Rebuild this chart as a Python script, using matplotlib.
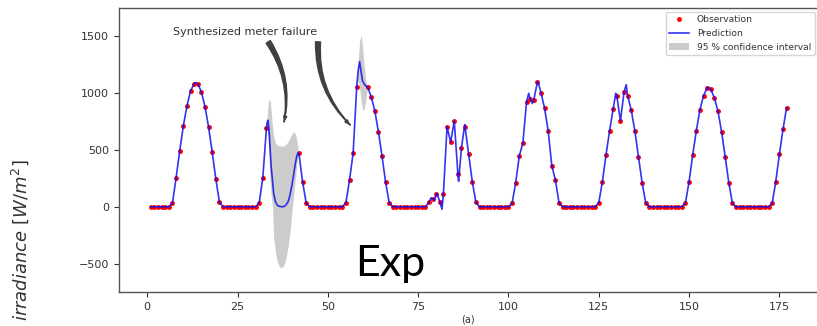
import numpy as np
import matplotlib
matplotlib.use("Agg")
import matplotlib.pyplot as plt

nan = np.nan

# Hourly irradiance observations (hour index 1..177), NaN = meter failure
hours = np.arange(1, 178)
obs_irr = [
    0, 0, 0, 0, 0, 0, 35, 256, 494, 712, 888, 1020, 1085, 1085, 1011, 882, 700, 480, 244, 41, 0, 0, 0, 0,
    0, 0, 0, 0, 0, 0, 35, 256, 690, nan, nan, nan, nan, nan, nan, nan, nan, 471, 222, 35, 0, 0, 0, 0,
    0, 0, 0, 0, 0, 0, 35, 235, 471, 1058, nan, nan, 1055, 970, 847, 661, 447, 215, 35, 0, 0, 0, 0, 0,
    0, 0, 0, 0, 0, 40, 70, 110, 45, 115, 705, 568, 756, 290, 520, 700, 462, 220, 39, 0, 0, 0, 0, 0,
    0, 0, 0, 0, 30, 212, 447, 565, 920, 950, 940, 1095, 1005, 868, 668, 362, 235, 35, 0, 0, 0, 0, 0, 0,
    0, 0, 0, 0, 35, 220, 456, 670, 862, 975, 755, 1010, 978, 850, 668, 441, 212, 35, 0, 0, 0, 0, 0, 0,
    0, 0, 0, 0, 35, 220, 456, 668, 853, 978, 1048, 1035, 960, 843, 661, 441, 212, 30, 0, 0, 0, 0, 0, 0,
    0, 0, 0, 0, 30, 222, 462, 683, 873,
]

# Prediction between samples where the curve departs from straight segments
pred_extra_x = [13.5, 78.6, 79.5, 80.2, 81.6, 86.2, 87.9, 105.6, 106.6, 108.2, 129.7, 132.6, 155.4]
pred_extra_y = [1093, 80, 58, 118, -22, 225, 725, 1000, 910, 1102, 1000, 1075, 1052]

# First failure window: predictive mean and 95 % bounds
gap1_x = [33, 33.2, 33.4, 33.7, 34, 34.3, 34.7, 35, 35.5, 36, 36.5, 37, 37.5, 38, 38.5, 39, 39.5, 40, 40.5, 41, 41.4, 41.7, 42]
gap1_mean = [690, 745, 762, 690, 520, 360, 220, 120, 45, 15, 5, 2, 0, 5, 20, 45, 100, 180, 275, 380, 445, 472, 471]
gap1_hi = [690, 800, 880, 945, 940, 850, 700, 620, 560, 545, 538, 535, 535, 540, 555, 575, 605, 640, 662, 645, 590, 530, 471]
gap1_lo = [690, 690, 620, 450, 250, 100, 0, -265, -400, -480, -520, -535, -530, -500, -440, -350, -230, -60, 90, 250, 370, 440, 471]

# Second failure window
gap2_x = [58, 58.4, 58.8, 59.2, 59.6, 60, 60.4, 60.8, 61]
gap2_mean = [1058, 1200, 1279, 1190, 1110, 1085, 1068, 1058, 1055]
gap2_hi = [1058, 1290, 1460, 1512, 1420, 1260, 1130, 1070, 1055]
gap2_lo = [1058, 1110, 1050, 930, 860, 850, 920, 1010, 1055]

x_ticks = [0, 25, 50, 75, 100, 125, 150, 175]
y_ticks = [-500, 0, 500, 1000, 1500]

# Assemble the prediction curve from samples, in-between detail and gap means
obs = np.array(obs_irr, dtype=float)
valid = ~np.isnan(obs)
px = np.concatenate([hours[valid], pred_extra_x, gap1_x, gap2_x])
py = np.concatenate([obs[valid], pred_extra_y, gap1_mean, gap2_mean])
order = np.argsort(px, kind="stable")
px, py = px[order], py[order]
_, uniq = np.unique(px, return_index=True)
px, py = px[uniq], py[uniq]

fig = plt.figure(figsize=(8.17, 3.26), dpi=100)
ax = fig.add_axes([0.1457, 0.1043, 0.856, 0.871])

band_kw = dict(color="gray", alpha=0.4, linewidth=0)
ax.fill_between(gap1_x, gap1_lo, gap1_hi, label="95 % confidence interval", **band_kw)
ax.fill_between(gap2_x, gap2_lo, gap2_hi, **band_kw)
ax.plot(hours[valid], obs[valid], "r.", markersize=5, label="Observation", zorder=2)
ax.plot(px, py, "-", color="#1010f0", linewidth=1.2, alpha=0.85, label="Prediction", zorder=3)

ax.set_xlim(-7.8, 185.8)
ax.set_ylim(-750, 1750)
ax.set_xticks(x_ticks)
ax.set_yticks(y_ticks)
ax.tick_params(labelsize=8, colors="#333333", length=3.5, width=0.8)
for s in ax.spines.values():
    s.set_color("#555555")
    s.set_linewidth(1.0)

# Annotation with curved arrows toward the failure windows
ax.text(27.1, 1540, "Synthesized meter failure", fontsize=8, color="#333333",
        ha="center", va="center")
arrow_col = "#404040"
for start, end, rad in [((33.5, 1452), (37.9, 747), -0.2), ((47.3, 1452), (56.2, 720), 0.22)]:
    ax.annotate("", xy=end, xytext=start,
                arrowprops=dict(arrowstyle="wedge,tail_width=0.36,shrink_factor=0.55",
                                connectionstyle=f"arc3,rad={rad}", color=arrow_col,
                                shrinkA=0, shrinkB=0))
    ax.annotate("", xy=end, xytext=start,
                arrowprops=dict(arrowstyle="-|>,head_length=0.3,head_width=0.12",
                                connectionstyle=f"arc3,rad={rad}", color=arrow_col,
                                lw=0.9, shrinkA=0, shrinkB=0))

h, l = ax.get_legend_handles_labels()
lookup = dict(zip(l, h))
names = ["Observation", "Prediction", "95 % confidence interval"]
ax.legend([lookup[n] for n in names], names, loc="upper right", fontsize=6.6,
          frameon=True, borderaxespad=0.4, labelcolor="#333333", handlelength=2.2)

fig.text(0.0245, 0.262, r"$irradiance\ [W/m^2]$", rotation=90, fontsize=13,
         ha="center", va="center", color="#333333")
fig.text(0.573, 0.02, "(a)", fontsize=7, ha="center", va="center", color="#333333")
fig.text(0.4345, 0.154, "Exp", fontsize=31, family="Lato", ha="left", va="baseline",
         color="black")

fig.savefig("out.png", dpi=100)
